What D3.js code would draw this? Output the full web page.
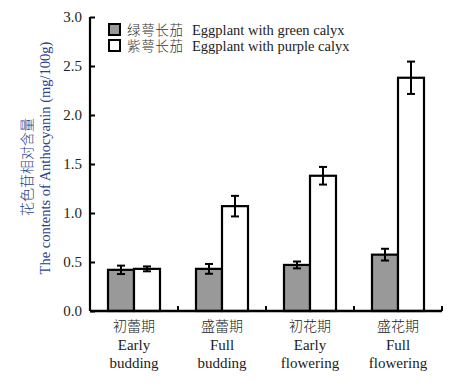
<!DOCTYPE html>
<html><head><meta charset="utf-8">
<script src="https://cdn.jsdelivr.net/npm/d3@7/dist/d3.min.js"></script>
<style>body{margin:0;background:#fff}svg text{font-family:"Liberation Serif","Noto Sans CJK SC",serif}</style>
</head><body>
<svg id="c" width="467" height="391"></svg>
<script>
const categoriesZh = ["初蕾期","盛蕾期","初花期","盛花期"];
const categoriesEn1 = ["Early","Full","Early","Full"];
const categoriesEn2 = ["budding","budding","flowering","flowering"];
const seriesZh = ["绿萼长茄","紫萼长茄"];
const seriesEn = ["Eggplant with green calyx","Eggplant with purple calyx"];
const greenValues = [0.42, 0.43, 0.47, 0.575];
const greenErrors = [0.043, 0.05, 0.035, 0.06];
const purpleValues = [0.43, 1.07, 1.38, 2.38];
const purpleErrors = [0.025, 0.105, 0.09, 0.165];
const yTicks = [0, 0.5, 1.0, 1.5, 2.0, 2.5, 3.0];

const svg = d3.select("#c");
const L = 90, R = 442, T = 17, B = 311;
const x = d3.scaleBand().domain(d3.range(4)).range([L, R]).paddingInner(0).paddingOuter(0);
const y = d3.scaleLinear().domain([0, 3]).range([B, T]);
const bw = 26;
const fills = ["#999999", "#ffffff"];
const series = [
  {vals: greenValues, errs: greenErrors, fill: fills[0], off: -bw},
  {vals: purpleValues, errs: purpleErrors, fill: fills[1], off: 0}
];

series.forEach(s => {
  const g = svg.append("g");
  g.selectAll("rect").data(s.vals).join("rect")
    .attr("x", (d,i) => x(i) + x.bandwidth()/2 + s.off)
    .attr("y", d => y(d))
    .attr("width", bw)
    .attr("height", d => y(0) - y(d))
    .attr("fill", s.fill).attr("stroke", "#000").attr("stroke-width", 2.2);
  s.vals.forEach((v, i) => {
    const cx = x(i) + x.bandwidth()/2 + s.off + bw/2;
    const e = s.errs[i];
    g.append("line").attr("x1", cx).attr("x2", cx).attr("y1", y(v+e)).attr("y2", y(v-e)).attr("stroke","#000").attr("stroke-width",2);
    [v+e, v-e].forEach(w => g.append("line").attr("x1", cx-4).attr("x2", cx+4).attr("y1", y(w)).attr("y2", y(w)).attr("stroke","#000").attr("stroke-width",2));
  });
});

// y axis
const ya = svg.append("g").attr("transform", `translate(${L},0)`)
  .call(d3.axisRight(y).tickValues(yTicks).tickFormat(d3.format(".1f")).tickSize(5));
ya.select(".domain").attr("d", `M0,${T}V${B}`).attr("stroke-width", 2.2);
ya.selectAll(".tick line").attr("stroke-width", 2);
ya.selectAll(".tick text").attr("x", -8).attr("text-anchor", "end").attr("font-size", 15).attr("fill", "#222")
  .attr("font-family", "Liberation Serif");

// x axis
const xa = svg.append("g").attr("transform", `translate(0,${B})`);
xa.append("line").attr("x1", L).attr("x2", R).attr("stroke", "#000").attr("stroke-width", 2.5);
d3.range(1,5).forEach(i => {
  const xx = i < 4 ? x(i) : R;
  xa.append("line").attr("x1", xx).attr("x2", xx).attr("y1", 0).attr("y2", -5).attr("stroke","#000").attr("stroke-width",2);
});
[categoriesZh, categoriesEn1, categoriesEn2].forEach((arr, r) => {
  xa.selectAll(null).data(arr).join("text")
    .attr("x", (d,i) => x(i) + x.bandwidth()/2)
    .attr("y", [20, 39, 57][r])
    .attr("text-anchor", "middle").attr("font-size", r === 0 ? 14 : 15).attr("fill", "#222")
    .attr("font-family", r === 0 ? "Noto Sans CJK SC" : "Liberation Serif")
    .style("font-weight", r === 0 ? 300 : 400)
    .text(d => d);
});

// y label
svg.append("text").attr("transform", "translate(32,167) rotate(-90)").attr("text-anchor","middle")
  .attr("font-size", 14).attr("fill", "#2a3f8f").attr("font-family","Noto Sans CJK SC").style("font-weight",300)
  .text("花色苷相对含量");
svg.append("text").attr("transform", "translate(50,158) rotate(-90)").attr("text-anchor","middle")
  .attr("font-size", 14.5).attr("fill", "#2a3f8f").attr("font-family","Liberation Serif")
  .text("The contents of Anthocyanin (mg/100g)");

// legend
const lg = svg.append("g");
seriesZh.forEach((n, i) => {
  lg.append("rect").attr("x", 109).attr("y", 24 + i*16).attr("width", 11).attr("height", 11)
    .attr("fill", fills[i]).attr("stroke", "#000").attr("stroke-width", 2);
  lg.append("text").attr("x", 127).attr("y", 35 + i*16).attr("font-size", 13.5).attr("fill", "#333")
    .attr("font-family","Noto Sans CJK SC").style("font-weight",300).attr("textLength", 56).text(n);
  lg.append("text").attr("x", 192).attr("y", 35 + i*16).attr("font-size", 14.5).attr("fill", "#222")
    .attr("font-family","Liberation Serif").text(seriesEn[i]);
});
</script>
</body></html>
